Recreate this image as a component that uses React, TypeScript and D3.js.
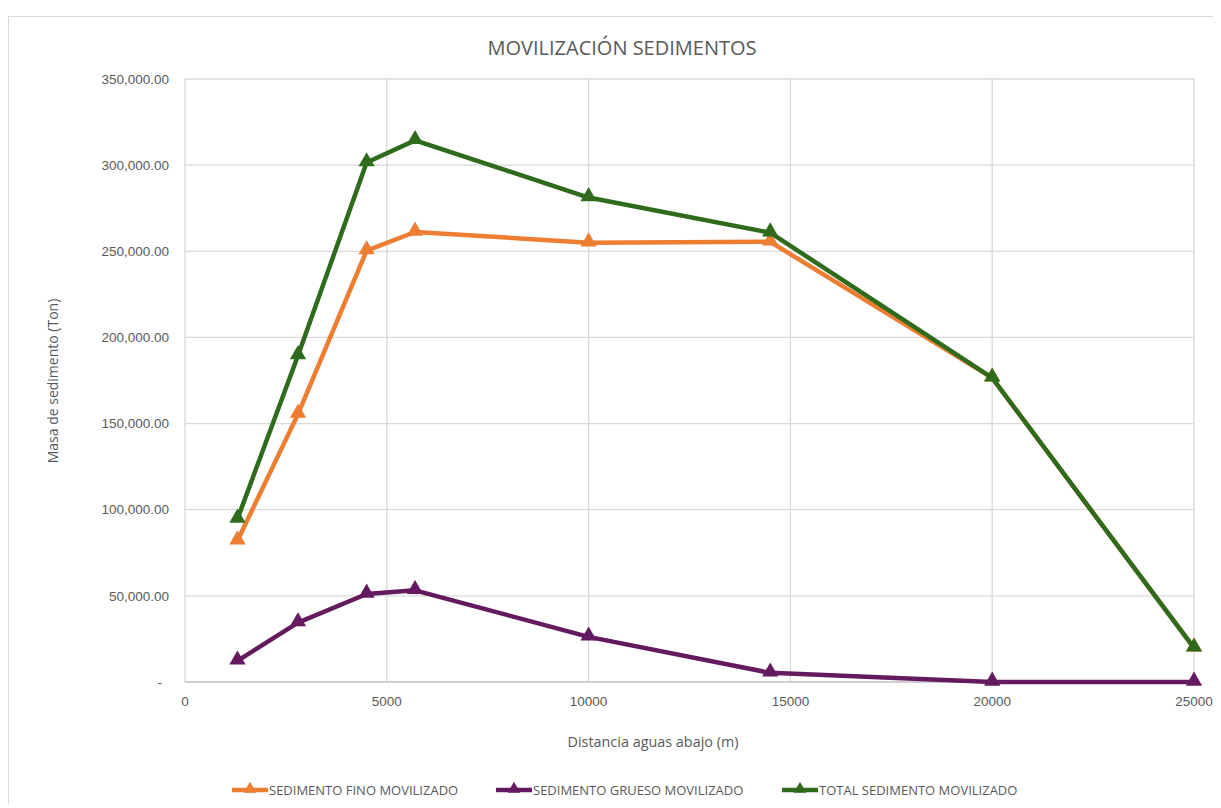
import React, { useEffect, useRef } from 'react'
import * as d3 from 'd3'

const distances = [1300, 2800, 4500, 5700, 10000, 14500, 20000, 25000]
const finoValues = [82000, 155500, 250400, 261200, 255000, 255500, 176500, 19800]
const gruesoValues = [12300, 34500, 51100, 53200, 26200, 5300, 0, 0]
const totalValues = [94600, 189500, 301500, 314400, 281200, 260800, 176500, 19800]
const seriesNames = ['SEDIMENTO FINO MOVILIZADO', 'SEDIMENTO GRUESO MOVILIZADO', 'TOTAL SEDIMENTO MOVILIZADO']
const seriesColors = ['#ED7D31', '#641A5E', '#2F6B1C']
const yTicks = [0, 50000, 100000, 150000, 200000, 250000, 300000, 350000]
const xTicks = [0, 5000, 10000, 15000, 20000, 25000]

const App = () => {
  const svgRef = useRef<SVGSVGElement>(null)

  useEffect(() => {
    const width = 1221
    const height = 808
    const margin = { left: 185, right: 27, top: 79, bottom: 126 }

    const svg = d3.select(svgRef.current)
    svg.selectAll('*').remove()
    svg.attr('width', width).attr('height', height)

    // chart border
    svg
      .append('rect')
      .attr('x', 8.5)
      .attr('y', 16.5)
      .attr('width', 1220)
      .attr('height', 800)
      .attr('fill', 'white')
      .attr('stroke', '#d9d9d9')

    const x = d3.scaleLinear().domain([0, 25000]).range([margin.left, width - margin.right])
    const y = d3.scaleLinear().domain([0, 350000]).range([height - margin.bottom, margin.top])

    const font = "'Liberation Sans', Arial, sans-serif"
    const font2 = "'Open Sans', sans-serif"

    // gridlines
    svg
      .append('g')
      .selectAll('line')
      .data(yTicks.slice(1))
      .enter()
      .append('line')
      .attr('x1', x(0))
      .attr('x2', x(25000))
      .attr('y1', (d) => y(d))
      .attr('y2', (d) => y(d))
      .attr('stroke', '#d9d9d9')
      .attr('stroke-width', 1.3)
    svg
      .append('g')
      .selectAll('line')
      .data(xTicks)
      .enter()
      .append('line')
      .attr('x1', (d) => x(d))
      .attr('x2', (d) => x(d))
      .attr('y1', y(0))
      .attr('y2', y(350000))
      .attr('stroke', '#d9d9d9')
      .attr('stroke-width', 1.3)
    svg
      .append('line')
      .attr('x1', x(0))
      .attr('x2', x(25000))
      .attr('y1', y(0))
      .attr('y2', y(0))
      .attr('stroke', '#bfbfbf')
      .attr('stroke-width', 1.5)

    // tick labels
    const fmt = d3.format(',.2f')
    svg
      .append('g')
      .selectAll('text')
      .data(yTicks)
      .enter()
      .append('text')
      .attr('x', (d) => (d === 0 ? 162 : 169))
      .attr('y', (d) => y(d))
      .attr('dy', '0.35em')
      .attr('text-anchor', 'end')
      .style('font-family', font)
      .style('font-size', '13.5px')
      .attr('fill', '#595959')
      .text((d) => (d === 0 ? '-' : fmt(d)))
    svg
      .append('g')
      .selectAll('text')
      .data(xTicks)
      .enter()
      .append('text')
      .attr('x', (d) => x(d))
      .attr('y', 706)
      .attr('text-anchor', 'middle')
      .style('font-family', font)
      .style('font-size', '13.5px')
      .attr('fill', '#595959')
      .text((d) => `${d}`)

    // titles
    svg
      .append('text')
      .attr('x', 622)
      .attr('y', 55)
      .attr('text-anchor', 'middle')
      .style('font-family', font2)
      .style('font-size', '20px')
      .attr('fill', '#595959')
      .text('MOVILIZACIÓN SEDIMENTOS')
    svg
      .append('text')
      .attr('x', 653)
      .attr('y', 747)
      .attr('text-anchor', 'middle')
      .style('font-family', font2)
      .style('font-size', '14.4px')
      .attr('fill', '#595959')
      .text('Distancia aguas abajo (m)')
    svg
      .append('text')
      .attr('transform', `translate(58, ${381}) rotate(-90)`)
      .attr('text-anchor', 'middle')
      .style('font-family', font2)
      .style('font-size', '14px')
      .attr('fill', '#595959')
      .text('Masa de sedimento (Ton)')

    const allSeries = [finoValues, gruesoValues, totalValues]
    const line = d3
      .line<number>()
      .x((d, i) => x(distances[i]))
      .y((d) => y(d))
    const triangle = d3.symbol().type(d3.symbolTriangle).size(115)

    allSeries.forEach((vals, s) => {
      const g = svg.append('g')
      g.append('path')
        .datum(vals)
        .attr('d', line)
        .attr('fill', 'none')
        .attr('stroke', seriesColors[s])
        .attr('stroke-width', 4.5)
        .attr('stroke-linejoin', 'round')
      g.selectAll('path.m')
        .data(vals)
        .enter()
        .append('path')
        .attr('class', 'm')
        .attr('d', triangle)
        .attr('transform', (d, i) => `translate(${x(distances[i])}, ${y(d) - 1})`)
        .attr('fill', seriesColors[s])
    })

    // legend
    const legendX = [232, 496, 782]
    seriesNames.forEach((name, i) => {
      const lg = svg.append('g').attr('transform', `translate(${legendX[i]}, 790)`)
      lg.append('line')
        .attr('x1', 0)
        .attr('x2', 36)
        .attr('y1', 0)
        .attr('y2', 0)
        .attr('stroke', seriesColors[i])
        .attr('stroke-width', 4.5)
      lg.append('path').attr('d', d3.symbol().type(d3.symbolTriangle).size(70)).attr('transform', 'translate(18, -1)').attr('fill', seriesColors[i])
      lg.append('text')
        .attr('x', 37)
        .attr('y', 0)
        .attr('dy', '0.35em')
        .style('font-family', font2)
        .style('font-size', '13px')
        .attr('fill', '#595959')
        .text(name)
    })
  }, [])

  return (
    <div style={{ margin: '-8px' }}>
      <svg ref={svgRef}></svg>
    </div>
  )
}

export default App
